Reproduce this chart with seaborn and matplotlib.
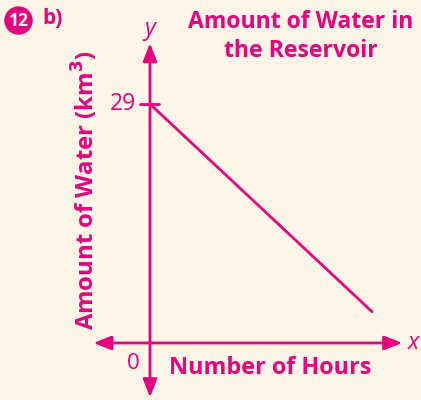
import matplotlib
matplotlib.use("Agg")
import matplotlib.pyplot as plt
import seaborn as sns
import pandas as pd
from matplotlib.patches import Circle

# Water left in the reservoir over time
hours = [0, 27]
water_km3 = [29, 3.8]
y_ticks = [29]
y_tick_labels = ["29"]

MAGENTA = "#e5007d"
CREAM = "#fdf5e5"

sns.set_theme(style="white")
plt.rcParams["font.family"] = ["Open Sans", "DejaVu Sans"]

fig = plt.figure(figsize=(4.21, 4.00), dpi=100, facecolor=CREAM)
ax = fig.add_axes([0, 0, 1, 1])
ax.set_facecolor(CREAM)

df = pd.DataFrame({"hours": hours, "water": water_km3})
sns.lineplot(data=df, x="hours", y="water", color=MAGENTA, lw=2, ax=ax)

ax.set_xlim(-18.24, 32.96)
ax.set_ylim(-6.92, 41.62)
for s in ax.spines.values():
    s.set_visible(False)
ax.set_xticks([])
ax.set_yticks([])
ax.set_xlabel("")
ax.set_ylabel("")

arrow = dict(arrowstyle="-|>,head_length=0.9,head_width=0.35", color=MAGENTA, lw=2,
             shrinkA=0, shrinkB=0)
# x axis, both directions
ax.annotate("", xy=(30.7, 0), xytext=(0, 0), arrowprops=arrow)
ax.annotate("", xy=(-6.9, 0), xytext=(0, 0), arrowprops=arrow)
# y axis, both directions
ax.annotate("", xy=(0, 36.4), xytext=(0, 0), arrowprops=arrow)
ax.annotate("", xy=(0, -6.6), xytext=(0, 0), arrowprops=arrow)

# tick mark on the y axis
for t, lab in zip(y_ticks, y_tick_labels):
    ax.plot([-1.2, 1.1], [t, t], color=MAGENTA, lw=2)
    ax.text(-1.75, t, lab, color=MAGENTA, fontsize=16.5, ha="right", va="center")

ax.text(-2.07, -2.45, "0", color=MAGENTA, fontsize=16, ha="center", va="center")
ax.text(31.4, 0, "x", color=MAGENTA, fontsize=17, style="italic", ha="left", va="center")
ax.text(0, 37.4, "y", color=MAGENTA, fontsize=17, style="italic", ha="center",
        va="baseline")

ax.text(14.6, -3.0, "Number of Hours", color=MAGENTA, fontsize=16.8, fontweight="bold",
        ha="center", va="center")
ax.text(-7.8, 18.6, "Amount of Water (km$^\\mathbf{3}$)", color=MAGENTA, fontsize=17.2,
        fontweight="bold", rotation=90, ha="center", va="center")

fig.text(0.7135, 0.975, "Amount of Water in\nthe Reservoir", color=MAGENTA, fontsize=16.6,
         fontweight="bold", ha="center", va="top", linespacing=1.3)

# question badge
badge = Circle((0.185, 4.0 - 0.205), 0.135, transform=fig.dpi_scale_trans, color=MAGENTA)
fig.patches.append(badge)
fig.text(18.5 / 421, 1 - 20.5 / 400, "12", color="white", fontsize=12.5, fontweight="bold",
         ha="center", va="center")
fig.text(42 / 421, 1 - 19 / 400, "b)", color=MAGENTA, fontsize=15, fontweight="bold",
         ha="left", va="center")

fig.savefig("out.png", dpi=100, facecolor=CREAM)
